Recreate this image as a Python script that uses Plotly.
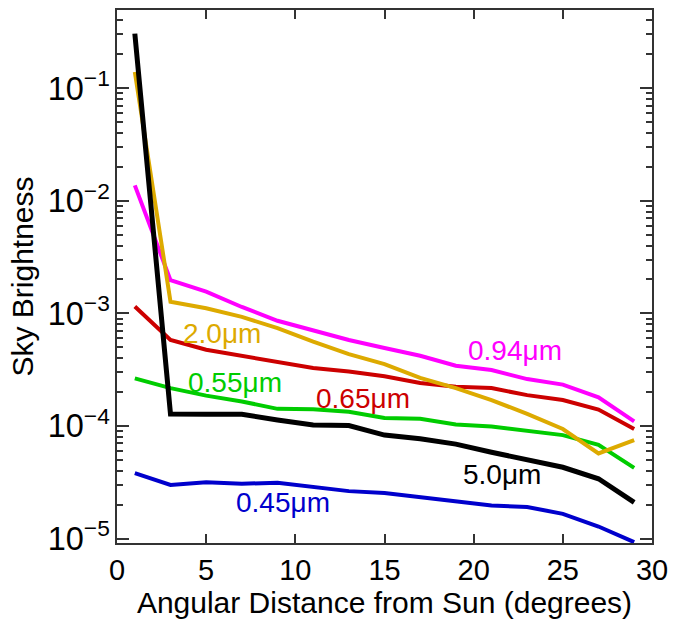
import plotly.graph_objects as go

angle = [1, 3, 5, 7, 9, 11, 13, 15, 17, 19, 21, 23, 25, 27, 29]

b045 = [3.81e-5, 3.0e-5, 3.17e-5, 3.07e-5, 3.13e-5, 2.86e-5, 2.64e-5, 2.54e-5,
        2.34e-5, 2.14e-5, 1.97e-5, 1.91e-5, 1.66e-5, 1.28e-5, 9.3e-6]
b055 = [2.65e-4, 2.17e-4, 1.86e-4, 1.65e-4, 1.42e-4, 1.41e-4, 1.34e-4, 1.18e-4,
        1.16e-4, 1.03e-4, 9.9e-5, 9.0e-5, 8.3e-5, 6.8e-5, 4.25e-5]
b065 = [1.15e-3, 5.8e-4, 4.75e-4, 4.2e-4, 3.67e-4, 3.27e-4, 3.05e-4, 2.76e-4,
        2.41e-4, 2.23e-4, 2.17e-4, 1.88e-4, 1.70e-4, 1.40e-4, 9.4e-5]
b094 = [1.37e-2, 1.97e-3, 1.56e-3, 1.14e-3, 8.6e-4, 7.0e-4, 5.8e-4, 4.92e-4,
        4.2e-4, 3.43e-4, 3.14e-4, 2.61e-4, 2.33e-4, 1.80e-4, 1.10e-4]
b200 = [1.39e-1, 1.27e-3, 1.11e-3, 9.3e-4, 7.4e-4, 5.6e-4, 4.35e-4, 3.55e-4,
        2.67e-4, 2.17e-4, 1.70e-4, 1.28e-4, 9.4e-5, 5.7e-5, 7.5e-5]
b500 = [3.05e-1, 1.28e-4, 1.27e-4, 1.27e-4, 1.13e-4, 1.02e-4, 1.01e-4, 8.3e-5,
        7.7e-5, 6.9e-5, 5.85e-5, 5.0e-5, 4.3e-5, 3.4e-5, 2.1e-5]

series_names = ["0.45μm", "0.55μm", "0.65μm", "0.94μm", "2.0μm", "5.0μm"]
series_vals = [b045, b055, b065, b094, b200, b500]
series_colors = ["#0000CC", "#00CC00", "#CC0000", "#FF00FF", "#DDAA00", "#000000"]
series_widths = [4, 4, 4, 4, 4, 5]

# label positions (x in degrees, y in log10 units)
label_x = [9.3, 6.6, 13.8, 22.3, 5.9, 21.6]
label_y = [-4.68, -3.617, -3.757, -3.333, -3.182, -4.43]

fig = go.Figure()
for name, vals, col, w in zip(series_names, series_vals, series_colors, series_widths):
    fig.add_trace(go.Scatter(x=angle, y=vals, mode="lines", name=name,
                             line=dict(color=col, width=w), showlegend=False))

for name, col, lx, ly in zip(series_names, series_colors, label_x, label_y):
    fig.add_annotation(x=lx, y=ly, xref="x", yref="y", text=name, showarrow=False,
                       font=dict(family="Liberation Sans, Arial", size=28, color=col))

xtick_font = dict(family="Liberation Sans, Arial", size=29, color="black")
ytick_font = dict(family="Liberation Sans, Arial", size=26, color="black")
title_font = dict(family="Liberation Sans, Arial", size=30, color="black")

fig.update_layout(
    width=687, height=620,
    margin=dict(l=117, r=35, t=8, b=77),
    paper_bgcolor="white", plot_bgcolor="white",
    font=xtick_font,
)
fig.update_xaxes(
    range=[0, 30], dtick=5, tick0=0,
    showgrid=False, zeroline=False,
    showline=True, linecolor="#333333", linewidth=2, mirror="allticks",
    ticks="inside", ticklen=9, tickwidth=1.5, tickcolor="#333333",
    tickfont=xtick_font,
    title=dict(text="Angular Distance from Sun (degrees)", font=title_font, standoff=0),
)
fig.update_yaxes(
    type="log", range=[-5.039, -0.306], dtick=1,
    exponentformat="power", showexponent="all",
    showgrid=False, zeroline=False,
    showline=True, linecolor="#333333", linewidth=2, mirror="allticks",
    ticks="inside", ticklen=12, tickwidth=1.5, tickcolor="#333333",
    minor=dict(ticks="inside", ticklen=6, tickwidth=1.5, tickcolor="#333333", dtick="D1", showgrid=False),
    tickfont=ytick_font,
    title=dict(text="Sky Brightness", font=title_font, standoff=5),
)

fig.write_html("out.html")
